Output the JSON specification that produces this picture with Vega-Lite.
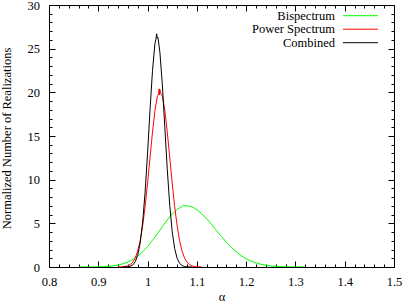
{
  "$schema": "https://vega.github.io/schema/vega-lite/v6.json",
  "width": 345,
  "height": 262,
  "autosize": {"type": "none"},
  "padding": {"left": 49, "top": 5, "right": 13, "bottom": 38},
  "background": "white",
  "config": {
    "view": {"stroke": "black", "strokeWidth": 1},
    "font": "Liberation Serif",
    "axis": {
      "domainColor": "black",
      "tickColor": "black",
      "tickWidth": 1,
      "labelFont": "Liberation Serif",
      "labelFontSize": 12.5,
      "labelColor": "black",
      "titleFont": "Liberation Serif",
      "titleFontSize": 12.5,
      "titleFontWeight": "normal",
      "titleColor": "black",
      "grid": false,
      "labelOverlap": false,
      "labelFlush": false,
      "labelBound": false
    },
    "legend": {
      "labelFont": "Liberation Serif"
    }
  },
  "data": {
    "values": [
      {"a": 0.86, "v": 0.002, "s": "Bispectrum"},
      {"a": 0.88, "v": 0.006, "s": "Bispectrum"},
      {"a": 0.89, "v": 0.012, "s": "Bispectrum"},
      {"a": 0.9, "v": 0.023, "s": "Bispectrum"},
      {"a": 0.91, "v": 0.044, "s": "Bispectrum"},
      {"a": 0.92, "v": 0.078, "s": "Bispectrum"},
      {"a": 0.93, "v": 0.136, "s": "Bispectrum"},
      {"a": 0.94, "v": 0.227, "s": "Bispectrum"},
      {"a": 0.95, "v": 0.37, "s": "Bispectrum"},
      {"a": 0.96, "v": 0.57, "s": "Bispectrum"},
      {"a": 0.97, "v": 0.86, "s": "Bispectrum"},
      {"a": 0.98, "v": 1.24, "s": "Bispectrum"},
      {"a": 0.99, "v": 1.74, "s": "Bispectrum"},
      {"a": 1.0, "v": 2.34, "s": "Bispectrum"},
      {"a": 1.01, "v": 3.05, "s": "Bispectrum"},
      {"a": 1.02, "v": 3.82, "s": "Bispectrum"},
      {"a": 1.03, "v": 4.62, "s": "Bispectrum"},
      {"a": 1.04, "v": 5.4, "s": "Bispectrum"},
      {"a": 1.05, "v": 6.08, "s": "Bispectrum"},
      {"a": 1.055, "v": 6.32, "s": "Bispectrum"},
      {"a": 1.06, "v": 6.62, "s": "Bispectrum"},
      {"a": 1.065, "v": 6.78, "s": "Bispectrum"},
      {"a": 1.07, "v": 6.92, "s": "Bispectrum"},
      {"a": 1.073, "v": 7.08, "s": "Bispectrum"},
      {"a": 1.076, "v": 6.98, "s": "Bispectrum"},
      {"a": 1.08, "v": 7.02, "s": "Bispectrum"},
      {"a": 1.085, "v": 6.93, "s": "Bispectrum"},
      {"a": 1.09, "v": 6.87, "s": "Bispectrum"},
      {"a": 1.095, "v": 6.74, "s": "Bispectrum"},
      {"a": 1.1, "v": 6.56, "s": "Bispectrum"},
      {"a": 1.11, "v": 6.1, "s": "Bispectrum"},
      {"a": 1.12, "v": 5.53, "s": "Bispectrum"},
      {"a": 1.13, "v": 4.87, "s": "Bispectrum"},
      {"a": 1.14, "v": 4.17, "s": "Bispectrum"},
      {"a": 1.15, "v": 3.48, "s": "Bispectrum"},
      {"a": 1.16, "v": 2.84, "s": "Bispectrum"},
      {"a": 1.17, "v": 2.25, "s": "Bispectrum"},
      {"a": 1.18, "v": 1.73, "s": "Bispectrum"},
      {"a": 1.19, "v": 1.3, "s": "Bispectrum"},
      {"a": 1.2, "v": 0.95, "s": "Bispectrum"},
      {"a": 1.21, "v": 0.67, "s": "Bispectrum"},
      {"a": 1.22, "v": 0.47, "s": "Bispectrum"},
      {"a": 1.23, "v": 0.31, "s": "Bispectrum"},
      {"a": 1.24, "v": 0.21, "s": "Bispectrum"},
      {"a": 1.25, "v": 0.13, "s": "Bispectrum"},
      {"a": 1.26, "v": 0.08, "s": "Bispectrum"},
      {"a": 1.27, "v": 0.05, "s": "Bispectrum"},
      {"a": 1.28, "v": 0.03, "s": "Bispectrum"},
      {"a": 1.29, "v": 0.017, "s": "Bispectrum"},
      {"a": 1.3, "v": 0.009, "s": "Bispectrum"},
      {"a": 1.32, "v": 0.002, "s": "Bispectrum"},
      {"a": 0.94, "v": 0.004, "s": "Power Spectrum"},
      {"a": 0.95, "v": 0.025, "s": "Power Spectrum"},
      {"a": 0.96, "v": 0.13, "s": "Power Spectrum"},
      {"a": 0.965, "v": 0.28, "s": "Power Spectrum"},
      {"a": 0.97, "v": 0.55, "s": "Power Spectrum"},
      {"a": 0.975, "v": 1.03, "s": "Power Spectrum"},
      {"a": 0.98, "v": 1.82, "s": "Power Spectrum"},
      {"a": 0.985, "v": 3.01, "s": "Power Spectrum"},
      {"a": 0.99, "v": 4.71, "s": "Power Spectrum"},
      {"a": 0.995, "v": 6.92, "s": "Power Spectrum"},
      {"a": 1.0, "v": 9.6, "s": "Power Spectrum"},
      {"a": 1.005, "v": 12.55, "s": "Power Spectrum"},
      {"a": 1.01, "v": 15.45, "s": "Power Spectrum"},
      {"a": 1.015, "v": 17.93, "s": "Power Spectrum"},
      {"a": 1.02, "v": 19.6, "s": "Power Spectrum"},
      {"a": 1.0225, "v": 19.8, "s": "Power Spectrum"},
      {"a": 1.0235, "v": 20.4, "s": "Power Spectrum"},
      {"a": 1.024, "v": 19.7, "s": "Power Spectrum"},
      {"a": 1.025, "v": 20.3, "s": "Power Spectrum"},
      {"a": 1.0265, "v": 19.9, "s": "Power Spectrum"},
      {"a": 1.03, "v": 19.6, "s": "Power Spectrum"},
      {"a": 1.035, "v": 17.93, "s": "Power Spectrum"},
      {"a": 1.04, "v": 15.45, "s": "Power Spectrum"},
      {"a": 1.045, "v": 12.55, "s": "Power Spectrum"},
      {"a": 1.05, "v": 9.6, "s": "Power Spectrum"},
      {"a": 1.055, "v": 6.92, "s": "Power Spectrum"},
      {"a": 1.06, "v": 4.71, "s": "Power Spectrum"},
      {"a": 1.065, "v": 3.01, "s": "Power Spectrum"},
      {"a": 1.07, "v": 1.82, "s": "Power Spectrum"},
      {"a": 1.075, "v": 1.03, "s": "Power Spectrum"},
      {"a": 1.08, "v": 0.55, "s": "Power Spectrum"},
      {"a": 1.085, "v": 0.28, "s": "Power Spectrum"},
      {"a": 1.09, "v": 0.13, "s": "Power Spectrum"},
      {"a": 1.095, "v": 0.06, "s": "Power Spectrum"},
      {"a": 1.1, "v": 0.025, "s": "Power Spectrum"},
      {"a": 1.11, "v": 0.004, "s": "Power Spectrum"},
      {"a": 0.95, "v": 0.002, "s": "Combined"},
      {"a": 0.96, "v": 0.029, "s": "Combined"},
      {"a": 0.965, "v": 0.089, "s": "Combined"},
      {"a": 0.97, "v": 0.24, "s": "Combined"},
      {"a": 0.975, "v": 0.6, "s": "Combined"},
      {"a": 0.98, "v": 1.35, "s": "Combined"},
      {"a": 0.985, "v": 2.76, "s": "Combined"},
      {"a": 0.99, "v": 5.11, "s": "Combined"},
      {"a": 0.995, "v": 8.57, "s": "Combined"},
      {"a": 1.0, "v": 13.04, "s": "Combined"},
      {"a": 1.005, "v": 18.0, "s": "Combined"},
      {"a": 1.01, "v": 22.5, "s": "Combined"},
      {"a": 1.015, "v": 25.6, "s": "Combined"},
      {"a": 1.017, "v": 26.1, "s": "Combined"},
      {"a": 1.0185, "v": 26.7, "s": "Combined"},
      {"a": 1.0195, "v": 26.2, "s": "Combined"},
      {"a": 1.021, "v": 26.3, "s": "Combined"},
      {"a": 1.025, "v": 24.6, "s": "Combined"},
      {"a": 1.03, "v": 20.85, "s": "Combined"},
      {"a": 1.035, "v": 16.0, "s": "Combined"},
      {"a": 1.04, "v": 11.16, "s": "Combined"},
      {"a": 1.045, "v": 7.05, "s": "Combined"},
      {"a": 1.05, "v": 4.04, "s": "Combined"},
      {"a": 1.055, "v": 2.1, "s": "Combined"},
      {"a": 1.06, "v": 0.99, "s": "Combined"},
      {"a": 1.065, "v": 0.42, "s": "Combined"},
      {"a": 1.07, "v": 0.164, "s": "Combined"},
      {"a": 1.075, "v": 0.058, "s": "Combined"},
      {"a": 1.08, "v": 0.018, "s": "Combined"},
      {"a": 1.09, "v": 0.002, "s": "Combined"}
    ]
  },
  "layer": [
    {
      "mark": {"type": "line", "strokeWidth": 1, "clip": true},
      "encoding": {
        "x": {
          "field": "a",
          "type": "quantitative",
          "scale": {"domain": [0.8, 1.5], "nice": false, "zero": false},
          "axis": {
            "orient": "bottom",
            "title": "α",
            "values": [0.8,0.82,0.84,0.86,0.88,0.9,0.92,0.94,0.96,0.98,1,1.02,1.04,1.06,1.08,1.1,1.12,1.14,1.16,1.18,1.2,1.22,1.24,1.26,1.28,1.3,1.32,1.34,1.36,1.38,1.4,1.42,1.44,1.46,1.48,1.5],
            "labelExpr": "abs(datum.value*10 - round(datum.value*10)) < 0.001 ? format(datum.value, '~g') : ''",
            "tickSize": {"condition": {"test": "abs(datum.value*10 - round(datum.value*10)) < 0.001", "value": -6}, "value": -3},
            "labelPadding": 14,
            "domain": true,
            "titleX": 172.5,
            "titleY": 33,
            "titleBaseline": "alphabetic",
            "titleAlign": "center"
          }
        },
        "y": {
          "field": "v",
          "type": "quantitative",
          "scale": {"domain": [0, 30], "nice": false, "zero": true},
          "axis": {
            "orient": "left",
            "title": "Normalized Number of Realizations",
            "values": [0,1,2,3,4,5,6,7,8,9,10,11,12,13,14,15,16,17,18,19,20,21,22,23,24,25,26,27,28,29,30],
            "labelExpr": "datum.value % 5 === 0 ? datum.label : ''",
            "tickSize": {"condition": {"test": "datum.value % 5 === 0", "value": -6}, "value": -3},
            "labelPadding": 15.5,
            "domain": true,
            "titleAngle": -90,
            "titleX": -39,
            "titleY": 133,
            "titleBaseline": "alphabetic",
            "titleAlign": "center"
          }
        },
        "color": {
          "field": "s",
          "type": "nominal",
          "sort": ["Bispectrum", "Power Spectrum", "Combined"],
          "scale": {"domain": ["Bispectrum", "Power Spectrum", "Combined"], "range": ["#00ff00", "#ff0000", "#000000"]},
          "legend": {
            "orient": "none",
            "legendX": 305,
            "legendY": 4.2,
            "title": null,
            "symbolType": "M-3,0H3",
            "symbolSize": 136,
            "symbolStrokeWidth": 1,
            "symbolOpacity": 1,
            "symbolFillColor": "transparent",
            "labelAlign": "right",
            "labelOffset": -32,
            "rowPadding": 0.5,
            "padding": 0,
            "labelFontSize": 12.5,
            "labelColor": "black"
          }
        }
      }
    },
    {
      "mark": {"type": "line", "opacity": 0},
      "encoding": {
        "x": {
          "field": "a",
          "type": "quantitative",
          "axis": {
            "orient": "top",
            "title": null,
            "labels": false,
            "domain": false,
            "values": [0.8,0.82,0.84,0.86,0.88,0.9,0.92,0.94,0.96,0.98,1,1.02,1.04,1.06,1.08,1.1,1.12,1.14,1.16,1.18,1.2,1.22,1.24,1.26,1.28,1.3,1.32,1.34,1.36,1.38,1.4,1.42,1.44,1.46,1.48,1.5],
            "tickSize": {"condition": {"test": "abs(datum.value*10 - round(datum.value*10)) < 0.001", "value": -6}, "value": -3}
          }
        },
        "y": {
          "field": "v",
          "type": "quantitative",
          "axis": {
            "orient": "right",
            "title": null,
            "labels": false,
            "domain": false,
            "values": [0,1,2,3,4,5,6,7,8,9,10,11,12,13,14,15,16,17,18,19,20,21,22,23,24,25,26,27,28,29,30],
            "tickSize": {"condition": {"test": "datum.value % 5 === 0", "value": -6}, "value": -3}
          }
        },
        "detail": {"field": "s", "type": "nominal"}
      }
    }
  ]
}
